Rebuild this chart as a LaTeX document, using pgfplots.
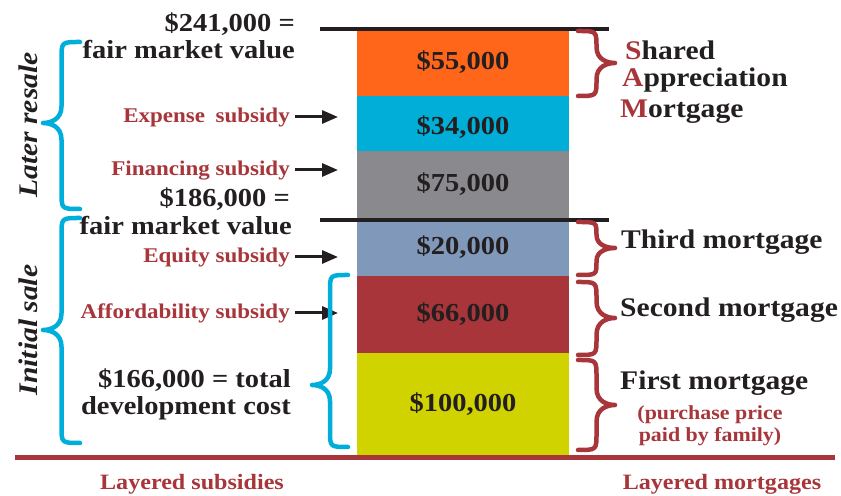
\documentclass[border=0pt]{standalone}
\usepackage{fontspec}
\setmainfont{Liberation Serif}[FakeStretch=1.1]
\usepackage{pgfplots}
\pgfplotsset{compat=1.18}
\usetikzlibrary{arrows.meta}

\definecolor{ctext}{HTML}{231F20}
\definecolor{cred}{HTML}{A8353A}
\definecolor{cblue}{HTML}{00AEDB}
\definecolor{cyel}{HTML}{D1D300}
\definecolor{cslate}{HTML}{8098BA}
\definecolor{cgray}{HTML}{8A898E}
\definecolor{ccyan}{HTML}{00AED8}
\definecolor{corange}{HTML}{FF661A}

\newcommand\fs[1]{\fontsize{#1}{#1}\selectfont\bfseries}

% brace: x0, ytop, ybot, width (neg = opens left), y of tip
\newcommand\brc[6]{%
  \pgfmathsetmacro\s{#1+#4/2}%
  \pgfmathsetmacro\t{#1+#4}%
  \pgfmathsetmacro\r{min(abs(#4)*0.45,min(#2-#5,#5-#3)/2)}%
  \draw[#6,line width=4.5bp,line cap=round,line join=round]
    (#1,#2) .. controls (\s,#2) .. (\s,#2-\r) -- (\s,#5+\r)
    .. controls (\s,#5+0.2*\r) and (\s+0.3*#4,#5) .. (\t,#5)
    .. controls (\s+0.3*#4,#5) and (\s,#5-0.2*\r) .. (\s,#5-\r)
    -- (\s,#3+\r) .. controls (\s,#3) .. (#1,#3);
}

\begin{document}
\begin{tikzpicture}
\begin{axis}[x=1bp,y=1bp,xmin=0,xmax=841,ymin=-41,ymax=455,
  hide axis,clip=false,ybar stacked,bar width=212]
  \addplot[fill=cyel,draw=none]    coordinates {(463,102)};
  \addplot[fill=cred,draw=none]    coordinates {(463,77)};
  \addplot[fill=cslate,draw=none]  coordinates {(463,55)};
  \addplot[fill=cgray,draw=none]   coordinates {(463,70)};
  \addplot[fill=ccyan,draw=none]   coordinates {(463,55)};
  \addplot[fill=corange,draw=none] coordinates {(463,65)};
  \coordinate (O) at (axis cs:0,0);
\end{axis}
\begin{scope}[shift={(O)},x=1bp,y=1bp,every node/.style={inner sep=0pt,text=ctext}]
  \path (0,-41) rectangle (841,455);
  % separators
  \draw[ctext,line width=3.5bp] (320,426) -- (609,426);
  \draw[ctext,line width=3.5bp] (320,235) -- (609,235);
  \draw[cred,line width=5bp] (15,-3) -- (835,-3);

  % bar labels
  \foreach \v/\y in {55/385,34/320,75/263,20/200,66/133,100/43}
    \node[anchor=base,font=\fs{26}] at (463,\y) {\$\v,000};

  % left texts
  \node[anchor=base east,font=\fs{26}] at (295,423) {\$241,000 =};
  \node[anchor=base east,font=\fs{26}] at (295,396) {fair market value};
  \node[anchor=base east,font=\fs{26}] at (290,248) {\$186,000 =};
  \node[anchor=base east,font=\fs{26}] at (292,220) {fair market value};
  \node[anchor=base east,font=\fs{26}] at (291,67) {\$166,000 = total};
  \node[anchor=base east,font=\fs{26}] at (291,40) {development cost};

  \node[anchor=base east,font=\fs{21},text=cred] at (290,332) {Expense\enspace subsidy};
  \node[anchor=base east,font=\fs{21},text=cred] at (290,279) {Financing subsidy};
  \node[anchor=base east,font=\fs{21},text=cred] at (290,192) {Equity subsidy};
  \node[anchor=base east,font=\fs{21},text=cred] at (290,136) {Affordability subsidy};
  \foreach \y in {338,285,198,142}
    \draw[ctext,line width=3bp,-{Triangle[length=16bp,width=13bp]}] (295,\y) -- (338,\y);

  \node[rotate=90,font=\fs{27}\itshape] at (28,330) {Later resale};
  \node[rotate=90,font=\fs{27}\itshape] at (28,125) {Initial sale};

  % braces
  \brc{80}{413}{246}{-37}{332}{cblue}
  \brc{80}{237}{12}{-37}{125}{cblue}
  \brc{348}{180}{8}{-36}{70}{cblue}
  \brc{578}{424}{359}{37}{392}{cred}
  \brc{578}{233}{180}{37}{207}{cred}
  \brc{578}{173}{100}{37}{137}{cred}
  \brc{578}{95}{5}{37}{50}{cred}

  % right texts
  \node[anchor=base west,font=\fs{27}] at (625,395) {\textcolor{cred}{S}hared};
  \node[anchor=base west,font=\fs{27}] at (622,368) {\textcolor{cred}{A}ppreciation};
  \node[anchor=base west,font=\fs{27}] at (620,337) {\textcolor{cred}{M}ortgage};
  \node[anchor=base west,font=\fs{27}] at (621,206) {Third mortgage};
  \node[anchor=base west,font=\fs{27}] at (620,138) {Second mortgage};
  \node[anchor=base west,font=\fs{27}] at (620,65) {First mortgage};
  \node[anchor=base,font=\fs{20},text=cred] at (710,35) {(purchase price};
  \node[anchor=base,font=\fs{20},text=cred] at (710,13) {paid by family)};

  % bottom
  \node[anchor=base,font=\fs{22},text=cred] at (192,-35) {Layered subsidies};
  \node[anchor=base,font=\fs{22},text=cred] at (722,-35) {Layered mortgages};
\end{scope}
\end{tikzpicture}
\end{document}
